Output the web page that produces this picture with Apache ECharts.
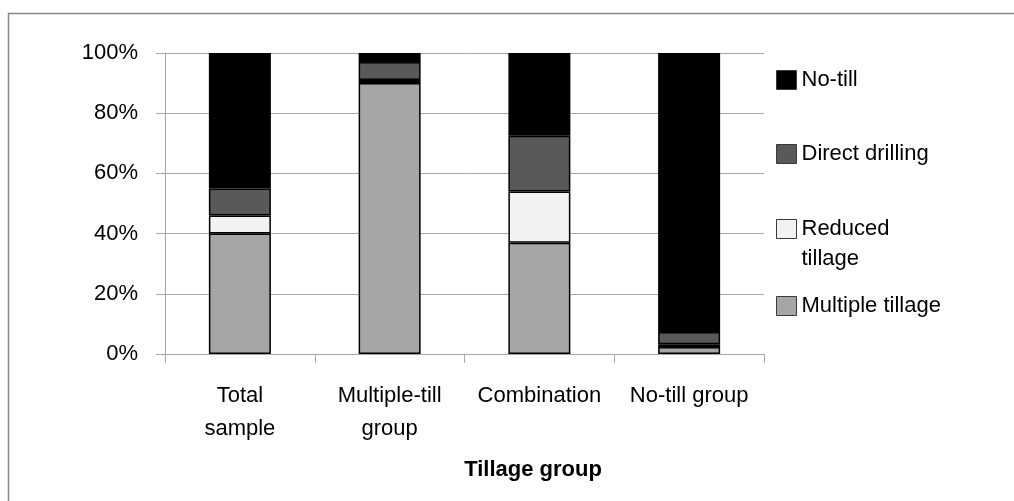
<!DOCTYPE html>
<html>
<head>
<meta charset="utf-8">
<script src="https://cdn.jsdelivr.net/npm/echarts@6/dist/echarts.min.js"></script>
<style>
  html, body { margin: 0; padding: 0; background: #fff; }
  #chart { width: 1014px; height: 501px; }
</style>
</head>
<body>
<div id="chart"></div>
<script>
// tillage shares per group, in %
var groups = ['Total\nsample', 'Multiple-till\ngroup', 'Combination', 'No-till group'];
var multipleTillage = [40, 90, 37, 2.3];
var reducedTillage = [6, 1, 17, 0.9];
var directDrilling = [9, 6, 18.5, 4.1];
var noTill = [45, 3, 27.5, 92.7];
var yTicks = [0, 20, 40, 60, 80, 100];

var font = 'Liberation Sans, Arial, sans-serif';
var gridGray = '#a6a6a6';

var chart = echarts.init(document.getElementById('chart'));

function bar(name, data, color) {
	return {
		name: name,
		type: 'bar',
		stack: 'all',
		barWidth: 62,
		data: data,
		itemStyle: { color: color, borderColor: '#000', borderWidth: 1.5 },
		emphasis: { disabled: true }
	};
}

//一个图例一个位置, 方便对齐
function legendAt(name, top, formatter) {
	var lg = {
		data: [{ name: name, icon: 'rect' }],
		orient: 'vertical',
		left: 776,
		top: top,
		itemWidth: 20,
		itemHeight: 19,
		itemGap: 0,
		padding: 0,
		selectedMode: false,
		itemStyle: { borderColor: '#3a3a3a', borderWidth: 1 },
		textStyle: { fontFamily: font, fontSize: 22, color: '#000', lineHeight: 30 }
	};
	if (formatter) lg.formatter = formatter;
	return lg;
}

var option = {
	animation: false,
	textStyle: { fontFamily: font },
	grid: { left: 165, right: 250, top: 53, bottom: 147 },
	title: {
		text: 'Tillage group',
		left: 533,
		top: 459,
		textAlign: 'center',
		padding: 0,
		textStyle: { fontFamily: font, fontSize: 22, fontWeight: 'bold', color: '#000' }
	},
	legend: [
		legendAt('No-till', 79 - 14),
		legendAt('Direct drilling', 153 - 14),
		// 空的第一行, 让 "Reduced" 和图标对齐
		legendAt('Reduced tillage', 229 - 45, ' \nReduced\ntillage'),
		legendAt('Multiple tillage', 305 - 14)
	],
	xAxis: {
		type: 'category',
		data: groups,
		axisLine: { lineStyle: { color: gridGray, width: 1 } },
		axisTick: { show: true, length: 9, lineStyle: { color: gridGray } },
		axisLabel: {
			color: '#000', fontSize: 22, fontFamily: font,
			lineHeight: 33, margin: 25, interval: 0
		}
	},
	yAxis: {
		type: 'value',
		min: yTicks[0],
		max: yTicks[yTicks.length - 1],
		interval: 20,
		axisLine: { show: true, lineStyle: { color: gridGray, width: 1 } },
		axisTick: { show: true, length: 9, lineStyle: { color: gridGray } },
		splitLine: { lineStyle: { color: gridGray, width: 1 } },
		axisLabel: {
			color: '#000', fontSize: 22, fontFamily: font, margin: 27,
			formatter: '{value}%'
		}
	},
	graphic: [{
		type: 'rect',
		shape: { x: 8.5, y: 13.5, width: 1100, height: 600 },
		style: { fill: null, stroke: '#888', lineWidth: 1.5 },
		silent: true
	}],
	series: [
		bar('Multiple tillage', multipleTillage, '#a6a6a6'),
		bar('Reduced tillage', reducedTillage, '#f2f2f2'),
		bar('Direct drilling', directDrilling, '#595959'),
		bar('No-till', noTill, '#000000')
	]
};

chart.setOption(option);
</script>
</body>
</html>
